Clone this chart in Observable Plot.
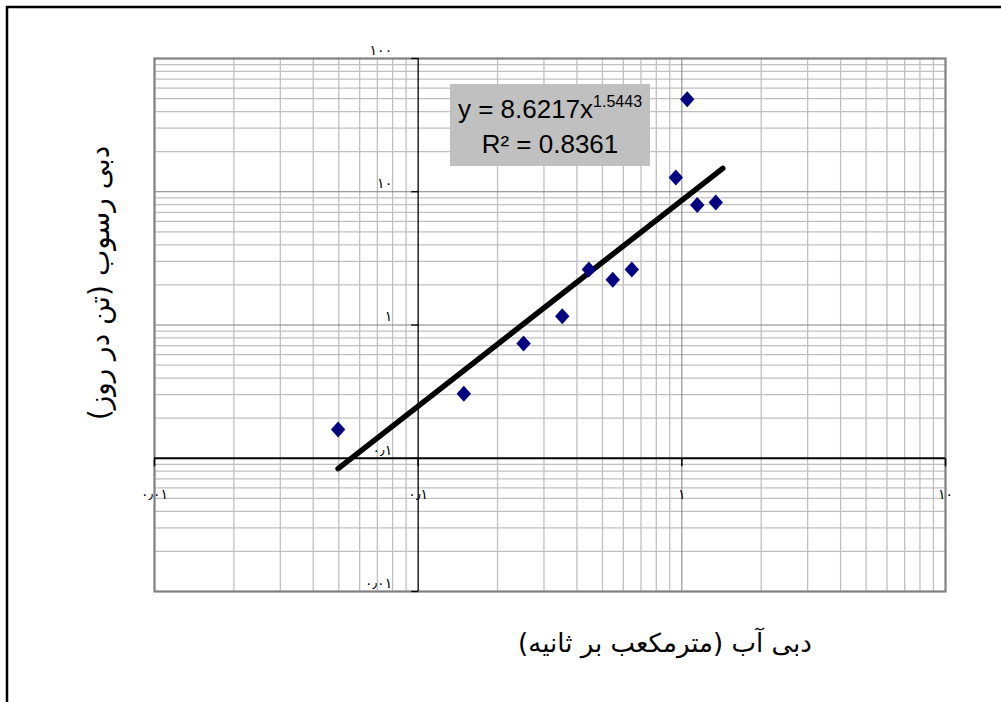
<!DOCTYPE html>
<html>
<head>
<meta charset="utf-8">
<script src="https://cdn.jsdelivr.net/npm/d3@7"></script>
<script src="https://cdn.jsdelivr.net/npm/@observablehq/plot@0.6"></script>
<style>
  html, body { margin: 0; padding: 0; background: #fff; }
  #chart { width: 1001px; height: 702px; position: relative; overflow: hidden; }
</style>
</head>
<body>
<div id="chart"></div>
<script>
// ---- data ----
const waterDischarge = [0.0497, 0.149, 0.251, 0.352, 0.444, 0.547, 0.646, 0.949, 1.048, 1.144, 1.345];
const sedimentDischarge = [0.164, 0.305, 0.725, 1.162, 2.61, 2.19, 2.61, 12.79, 49.5, 7.96, 8.30];
const coefA = 8.6217;
const expB = 1.5443;
const rSquared = "0.8361";
const trendRange = [0.0497, 1.43];

const xTicks = [0.01, 0.1, 1, 10];
const xTickLabels = ["۰٫۰۱", "۰٫۱", "۱", "۱۰"];
const yTicks = [0.01, 0.1, 1, 10, 100];
const yTickLabels = ["۰٫۰۱", "۰٫۱", "۱", "۱۰", "۱۰۰"];
const xDecades = [0.01, 0.1, 1];
const yDecades = [0.01, 0.1, 1, 10];
const minorMultipliers = [2, 3, 4, 5, 6, 7, 8, 9];

const xTitle = "دبی آب (مترمکعب بر ثانیه)";
const yTitle = "دبی رسوب (تن در روز)";

// ---- derived tables ----
const points = waterDischarge.map((x, i) => ({x, y: sedimentDischarge[i]}));
const trend = trendRange.map(x => ({x, y: coefA * Math.pow(x, expB)}));
const xMinor = xDecades.flatMap(d => minorMultipliers.map(m => d * m));
const yMinor = yDecades.flatMap(d => minorMultipliers.map(m => d * m));

const diamond = {
  draw(ctx, size) {
    const r = Math.sqrt(size / Math.PI);
    ctx.moveTo(0, -r);
    ctx.lineTo(0.9 * r, 0);
    ctx.lineTo(0, r);
    ctx.lineTo(-0.9 * r, 0);
    ctx.closePath();
  }
};
const tickLeft = { draw(ctx) { ctx.moveTo(-7, 0); ctx.lineTo(0, 0); } };
const tickDown = { draw(ctx) { ctx.moveTo(0, 0); ctx.lineTo(0, 8); } };

const plot = Plot.plot({
  width: 1001,
  height: 702,
  marginLeft: 154,
  marginRight: 56,
  marginTop: 58,
  marginBottom: 111,
  style: { fontFamily: "'Liberation Sans', 'DejaVu Sans', sans-serif", background: "#fff", overflow: "visible" },
  x: { type: "log", domain: [0.01, 10], axis: null },
  y: { type: "log", domain: [0.01, 100], axis: null },
  marks: [
    Plot.ruleY(yMinor, { stroke: "#c0c0c0", strokeWidth: 1.3 }),
    Plot.ruleX(xMinor, { stroke: "#c0c0c0", strokeWidth: 1.3 }),
    Plot.ruleY([1, 10], { stroke: "#808080", strokeWidth: 1 }),
    Plot.ruleX([1], { stroke: "#808080", strokeWidth: 1 }),
    Plot.frame({ stroke: "#808080", strokeWidth: 2.2 }),
    Plot.ruleX([0.1], { stroke: "black", strokeWidth: 1.3 }),
    Plot.ruleY([0.1], { stroke: "black", strokeWidth: 2.2 }),
    Plot.dot(yTicks, { x: () => 0.1, y: d => d, symbol: tickLeft, fill: "none", stroke: "black", strokeWidth: 1.3, r: 1 }),
    Plot.dot(xTicks, { x: d => d, y: () => 0.1, symbol: tickDown, fill: "none", stroke: "black", strokeWidth: 1.5, r: 1 }),
    Plot.text(yTicks, { x: () => 0.1, y: d => d, text: (d, i) => yTickLabels[i], dx: -26, dy: -8, textAnchor: "end", fontSize: 14, fill: "black", fontFamily: "'DejaVu Sans'" }),
    Plot.text(xTicks, { x: d => d, y: () => 0.1, text: (d, i) => xTickLabels[i], dy: 36, fontSize: 14, fill: "black", fontFamily: "'DejaVu Sans'" }),
    Plot.line(trend, { x: "x", y: "y", stroke: "black", strokeWidth: 5.5, strokeLinecap: "round" }),
    Plot.dot(points, { x: "x", y: "y", symbol: diamond, r: 8, fill: "#000080", stroke: "none" }),
    Plot.text([yTitle], { frameAnchor: "left", textAnchor: "middle", lineAnchor: "middle", text: d => d, dx: -54, dy: -42, rotate: -90, fontSize: 28, fill: "black", fontFamily: "'DejaVu Sans'" }),
    Plot.text([xTitle], { frameAnchor: "bottom", textAnchor: "middle", lineAnchor: "middle", text: d => d, dx: 115, dy: 52, fontSize: 26, fill: "black", fontFamily: "'DejaVu Sans'" })
  ]
});

document.getElementById("chart").appendChild(plot);

// ---- annotation: trendline equation box and page frame ----
const svg = d3.select(plot);
svg.append("rect").attr("x", 450).attr("y", 84).attr("width", 200).attr("height", 82).attr("fill", "#c0c0c0");
const eq = svg.append("text")
  .attr("x", 550).attr("y", 118).attr("text-anchor", "middle")
  .attr("font-family", "'Liberation Sans', sans-serif")
  .attr("font-size", 26).attr("fill", "#000");
eq.append("tspan").text(`y = ${coefA}x`);
eq.append("tspan").attr("font-size", 16).attr("dy", -11).text(`${expB}`);
svg.append("text")
  .attr("x", 550).attr("y", 153).attr("text-anchor", "middle")
  .attr("font-family", "'Liberation Sans', sans-serif")
  .attr("font-size", 26).attr("fill", "#000")
  .text(`R² = ${rSquared}`);
svg.append("line").attr("x1", 6).attr("x2", 1001).attr("y1", 7).attr("y2", 7).attr("stroke", "#000").attr("stroke-width", 2.5);
svg.append("line").attr("x1", 7).attr("x2", 7).attr("y1", 6).attr("y2", 702).attr("stroke", "#000").attr("stroke-width", 2.5);
</script>
</body>
</html>
